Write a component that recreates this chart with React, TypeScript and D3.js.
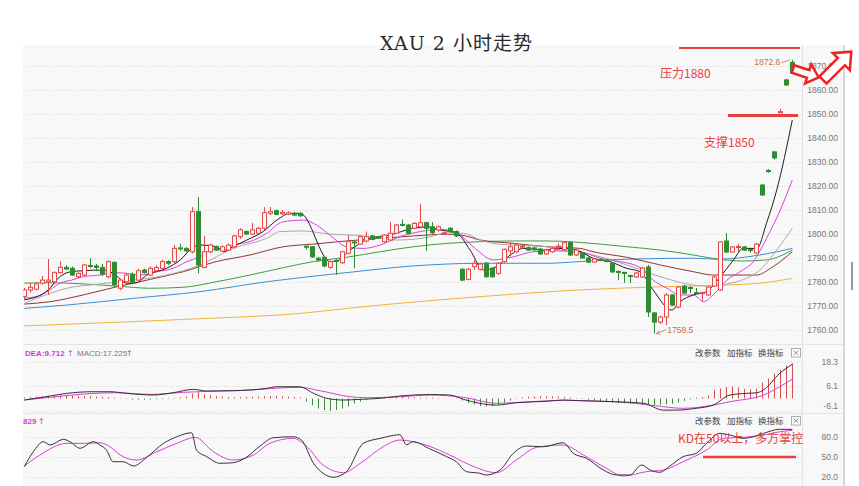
import React from 'react';
import * as d3 from 'd3';

// [open, high, low, close]
const OHLC: [number, number, number, number][] = [
  [1774, 1777.5, 1772.5, 1776.7], [1776.7, 1779.5, 1775.5, 1777.8], [1777, 1780, 1776.5, 1779.2], [1779.5, 1782.5, 1779, 1780.8],
  [1780.1, 1789.6, 1774.6, 1780.8], [1780.1, 1784.5, 1779, 1783.9], [1783.9, 1788.7, 1783.5, 1786.1], [1786.1, 1787, 1785, 1785.4],
  [1785.7, 1786.5, 1782.5, 1782.9], [1782.2, 1784, 1781.5, 1783.6], [1782.9, 1787.5, 1782.5, 1787.1], [1786.9, 1789.9, 1785.7, 1786.5],
  [1786.7, 1787.5, 1784.5, 1786.1], [1786.1, 1787.5, 1782.5, 1783.3], [1782.2, 1789, 1781.5, 1788.5], [1788.2, 1788.5, 1778, 1778.8],
  [1777.4, 1781.5, 1776.5, 1780.8], [1780.1, 1783.5, 1779.5, 1782.9], [1783.2, 1784, 1779, 1779.7], [1780.8, 1785.5, 1780, 1784.7],
  [1785, 1785.5, 1783.5, 1783.9], [1782.9, 1786.5, 1782.5, 1785.7], [1784.7, 1787, 1784, 1786.1], [1785.7, 1789.2, 1785, 1788.5],
  [1788.5, 1789, 1787, 1787.8], [1788.5, 1795.4, 1787.8, 1794], [1794.2, 1796, 1793, 1793.8], [1794, 1794.5, 1792.5, 1793],
  [1792.6, 1811.2, 1791.9, 1809.3], [1809.3, 1815.4, 1783.6, 1787.1], [1786.1, 1799.2, 1785.7, 1792.6], [1792.6, 1796, 1792, 1795.4],
  [1794.7, 1795.2, 1793, 1793.3], [1792.9, 1795.2, 1792.5, 1794.7], [1793.3, 1796, 1793, 1795.4], [1794.7, 1799.6, 1794, 1799.2],
  [1798.9, 1802.5, 1798, 1801.7], [1801, 1801.5, 1799.5, 1800], [1800, 1804.6, 1799.6, 1801.7], [1800.3, 1803, 1800, 1802.4],
  [1802.4, 1811.2, 1801.7, 1808.9], [1808.6, 1811.2, 1807.9, 1809.3], [1809.7, 1810.2, 1807.8, 1808.2], [1808.4, 1810, 1808, 1809],
  [1808.2, 1809.5, 1807.8, 1808.8], [1808.6, 1809.2, 1807.5, 1807.9], [1808.6, 1809, 1807, 1807.6], [1794.9, 1795.2, 1793.5, 1794.5],
  [1794.7, 1795, 1790, 1790.5], [1789.9, 1790.5, 1788.5, 1789.2], [1790.3, 1790.8, 1786, 1786.7], [1786.1, 1789, 1785.5, 1788.5],
  [1789, 1789.5, 1783, 1788.6], [1788, 1793, 1787.5, 1792.6], [1792, 1799.6, 1791.5, 1796.8], [1796.7, 1797.2, 1785.7, 1796.3],
  [1795.8, 1799.4, 1795.4, 1798.9], [1797.1, 1801, 1796.3, 1798.9], [1799.2, 1799.6, 1797.4, 1797.8], [1798.8, 1799.2, 1798, 1798.4],
  [1796.8, 1800, 1796.4, 1799.6], [1797.5, 1805.1, 1797, 1800.3], [1800.3, 1804.2, 1800, 1803.75], [1804, 1806, 1803.2, 1803.6],
  [1803.75, 1804.2, 1799.8, 1800.3], [1802.4, 1805, 1802, 1804.4], [1803, 1812.5, 1802.4, 1804.7], [1804.7, 1805.1, 1793, 1802.4],
  [1803, 1805, 1800, 1800.5], [1801.7, 1803.5, 1801, 1803], [1800.2, 1801, 1799.8, 1800.5], [1802.4, 1802.8, 1800.6, 1801],
  [1801, 1801.5, 1798.8, 1799.2], [1785.3, 1785.8, 1780.3, 1780.8], [1781.1, 1785.8, 1780.8, 1785.3], [1786.4, 1789.2, 1785, 1787.8],
  [1785.3, 1788, 1784.8, 1787.5], [1787.8, 1788.3, 1781.7, 1782.2], [1785.7, 1786.2, 1781.7, 1782.2], [1783.6, 1788.3, 1783, 1787.8],
  [1788.5, 1794, 1788, 1793.6], [1793, 1796.5, 1790.8, 1794.7], [1792.6, 1795.8, 1792, 1795.4], [1794.5, 1795.5, 1794, 1794.9],
  [1794.3, 1794.8, 1793, 1793.3], [1794.2, 1794.6, 1793, 1793.4], [1793.75, 1794.2, 1791.2, 1791.7], [1791.7, 1793.8, 1791.3, 1793.3],
  [1792.6, 1794.5, 1792.2, 1794], [1794.5, 1796, 1793.3, 1794.9], [1793.5, 1797, 1793, 1796.4], [1796.4, 1797, 1790.8, 1791.25],
  [1791.25, 1793.8, 1790.8, 1793.3], [1792.1, 1792.5, 1789.6, 1790], [1790, 1790.4, 1787.9, 1788.3], [1788.3, 1790, 1788, 1789.6],
  [1789.4, 1789.8, 1788.6, 1789], [1789, 1789.4, 1788.2, 1788.6], [1787.9, 1788.3, 1783.8, 1784.2], [1784.4, 1784.8, 1780.8, 1784],
  [1784, 1784.2, 1779.6, 1783.6], [1782.7, 1783, 1779.6, 1782.3], [1782.1, 1784.2, 1781.7, 1783.75], [1782.1, 1786.3, 1781.7, 1785.8],
  [1786.25, 1787.1, 1765.4, 1767.5], [1767.1, 1767.5, 1758.5, 1763.3], [1763.3, 1766, 1762.5, 1765.4], [1765.4, 1775.4, 1762, 1774.6],
  [1774.6, 1775, 1770, 1770.4], [1769.6, 1778.3, 1769, 1777.9], [1778.3, 1778.8, 1775, 1775.4], [1777.7, 1778.3, 1775.4, 1777.3],
  [1775.6, 1777.5, 1775, 1775.2], [1775.2, 1776, 1771.7, 1775.6], [1774.6, 1778.3, 1774.2, 1777.9], [1778.3, 1782.5, 1777.9, 1782.1],
  [1776.7, 1797, 1776.3, 1796.7], [1797.1, 1800.4, 1792.1, 1792.5], [1792.5, 1795, 1792.1, 1794.6], [1794.4, 1796, 1792.5, 1794.8],
  [1794.6, 1795, 1793, 1793.3], [1793.5, 1793.6, 1792.2, 1793.1], [1792.1, 1796.3, 1791.7, 1795.8], [1820.4, 1820.8, 1815.8, 1816.25],
  [1826.5, 1827, 1825.5, 1826], [1834.2, 1834.6, 1831, 1831.7], [1850.5, 1852.2, 1850.3, 1851], [1864.2, 1864.6, 1861.7, 1862.1],
  [1871.5, 1872.6, 1866.7, 1867.1],
];

// moving averages, [bar index, price]
const MA_BLACK: [number, number][] = [[0,1772.5],[4,1776.7],[5.7,1781.7],[7.6,1784.2],[9.8,1784.7],[13.2,1785],[14.8,1783.6],[17.1,1779.5],[18.7,1779.7],[20.4,1782.9],[23.7,1785.7],[26,1789.2],[27.9,1794],[29.3,1795.4],[32.1,1794.7],[33.2,1792.6],[34.8,1794.7],[37.1,1797.5],[39.8,1801],[42.1,1805.8],[44.3,1808.6],[46,1808.6],[51,1788.5],[52.1,1788.75],[54.3,1793.3],[57.6,1798.2],[61,1799.6],[64.8,1802.4],[67.1,1803],[69.3,1801.7],[72.1,1800.3],[74.3,1793.3],[76.5,1785],[78.7,1786.4],[81,1791.25],[83.2,1794],[86.5,1793.3],[89.8,1794],[92.1,1793.3],[94.8,1789.9],[97.6,1788.5],[100.4,1785.7],[102.6,1784.3],[104.8,1776.7],[107.9,1768.3],[109.3,1771.8],[111.5,1774.6],[113.7,1776],[116,1782.2],[118.2,1789.2],[119.8,1794],[122.1,1794],[123.7,1804.5],[125.4,1818.3],[128,1847.5]];
const MA_MAGENTA: [number, number][] = [[0,1773.3],[2.1,1773.9],[4.3,1776.7],[6,1779.6],[7.9,1780.8],[9.8,1782.2],[12.6,1782.9],[14.8,1783.9],[17.1,1783.6],[19.3,1782.9],[22.1,1784.3],[24.8,1785.7],[27.1,1788.5],[29.3,1790.5],[31.5,1793.6],[33.2,1793.3],[34.8,1795.4],[37.6,1796.8],[40.4,1800.3],[43,1805],[46.5,1805.8],[48.7,1803.75],[50.9,1799.6],[53.7,1794.7],[56.5,1794],[59.3,1795.4],[62.6,1798.9],[66,1801],[69.3,1802],[72.1,1800.5],[74.8,1794.7],[78.2,1789.2],[81.5,1790.5],[84.8,1792.6],[88.2,1793],[92.6,1792.6],[96,1789.9],[99.3,1788.5],[102.6,1786.1],[104.8,1780.8],[107.1,1777.4],[109.3,1774.6],[111.5,1774.6],[113.2,1771.8],[114.8,1774.6],[117.1,1780.8],[119.3,1784.3],[121.5,1788.5],[123.7,1798.2],[126,1810],[128,1822.5]];
const MA_GREY: [number, number][] = [[0,1771.1],[4.3,1775.3],[7.1,1777.4],[12.6,1779.2],[18.2,1780.8],[23.7,1782.9],[29.3,1787.1],[34.8,1794],[40.4,1798.2],[42.6,1801],[46.3,1801.25],[50.9,1800],[56.5,1799.2],[59.3,1798.2],[62.1,1797.5],[64.9,1797.8],[67.7,1798.9],[70.5,1800.5],[73.2,1800.3],[76,1797.5],[78.8,1795.8],[81.5,1795.4],[87.1,1794.7],[89.3,1793.3],[94.8,1791.25],[100.4,1787.1],[106,1782.2],[111.5,1778.75],[113.7,1778.3],[117.1,1779.2],[122.6,1785],[125.4,1793.3],[128,1802.4]];
const MA_DARKRED: [number, number][] = [[0,1770.8],[4.3,1771.8],[9.8,1774.6],[15.4,1778],[21,1781.1],[26.5,1784.3],[32,1788.5],[37.6,1791.25],[43.2,1794.7],[48.2,1795.8],[53.7,1797.1],[59.3,1798.2],[64.9,1799.2],[70.5,1799.9],[72.7,1799.6],[76,1797.5],[81.5,1796.1],[87.1,1794.7],[92.6,1794],[94.8,1792.6],[100.4,1790.3],[106,1787.1],[111.5,1784.3],[114.8,1782.9],[122,1782.9],[124.8,1786.4],[128,1792.6]];
const MA_GREEN: [number, number][] = [[0,1779.5],[4.3,1779.7],[9.8,1779.2],[15.4,1778.3],[21,1777.4],[26.5,1777.8],[32,1780.1],[37.6,1782.9],[43.2,1786],[48.2,1788.5],[53.7,1790.3],[59.3,1792.6],[64.9,1794.7],[70.5,1796.1],[76,1796.8],[81.5,1797.1],[87.1,1797.1],[92.6,1796.5],[100.4,1794.7],[106,1793.3],[111.5,1791.25],[115.4,1789.6],[119.8,1788.75],[123.7,1789.2],[128,1793.3]];
const MA_BLUE: [number, number][] = [[0,1769],[7.1,1770.4],[18.2,1773.2],[29.3,1776],[40.4,1780.1],[53.7,1783.9],[64.9,1786.7],[76,1787.8],[87.1,1787.8],[92.6,1788.5],[100.4,1789.5],[111.5,1789.9],[115.4,1789.5],[122.6,1791.25],[128,1794]];
const MA_ORANGE: [number, number][] = [[0,1761.7],[18.2,1763.5],[34.8,1765.3],[42.6,1766.25],[59.3,1770.4],[76,1773.9],[92.6,1776.7],[106,1778],[117.1,1778.75],[122.6,1779.5],[128,1781.5]];

// MACD
const MACD_HIST: number[] = [
  0.6, 0.8, 1.0, 1.2, 1.4, 1.5, 1.6, 1.6, 1.5, 1.4, 1.3, 1.2, 1.0, 0.9, 0.7,
  0.4, 0.2,
  -0.3, -0.5, -0.6, -0.6, -0.5, -0.4, -0.3, -0.2,
  0.3, 0.6, 1.0, 2.5, 3.2, 2.0, 1.5, 1.2, 1.0, 0.8, 0.7, 0.7, 0.8, 0.9, 1.0, 1.2, 1.3, 1.3, 1.2, 1.0, 0.8, 0.5,
  -1.6, -3.3, -5.0, -5.8, -6.2, -5.8, -5.0, -4.0, -2.5, -1.6, -0.8,
  0.2, 0.4, 0.6, 0.7, 0.8, 0.8, 0.7, 0.6, 0.5,
  0.5, 0.4, 0.3, 0.2, 0.1, -0.2,
  -1.0, -2.2, -3.0, -3.8, -4.0, -3.8, -3.0, -2.2, -1.0,
  0.3, 0.6, 0.9, 1.1, 1.2, 1.2, 1.1, 1.0, 0.8, 0.5, 0.2,
  -0.3, -0.6,
  -1.0, -1.4, -1.8, -2.0, -2.2, -2.4, -2.6, -2.8, -3.0, -3.2, -3.4, -3.2, -3.0, -2.6, -2.0, -1.2, -0.5,
  0.5, 0.8, 1.5, 4.3, 5.0, 5.8, 6.0, 5.6, 4.8, 4.6, 5.0, 8.0, 10.0, 12.5, 14.5, 16.5, 17.6,
];
const DIF: [number, number][] = [[0,-0.75],[4.3,1.25],[7.1,2.6],[11.5,3.4],[14.3,3.4],[17,2.6],[21.5,1.75],[24.8,2.9],[28.2,4.6],[30.4,3.75],[34.8,3.9],[40.4,5.1],[42.1,5.9],[45.9,5.9],[48.2,2.6],[50.4,0.1],[53.2,-0.75],[56,-0.4],[59.3,0.1],[62.6,1.25],[67.6,2.0],[70.9,1.75],[73.2,-0.4],[75.9,-2.4],[78.7,-3.3],[82,-2.1],[87,-1.4],[89.8,-0.75],[92.6,-1.1],[98.2,-1.6],[103.2,-2.4],[106.5,-5.8],[108.7,-5.8],[112,-4.9],[114.8,-3.3],[117.6,1.75],[120.4,2.6],[122.1,2.9],[123.2,4.3],[125.9,12.6],[128,17.225]];
const DEA: [number, number][] = [[0,-0.75],[4.3,0.6],[9.8,2.25],[15.4,2.9],[21,2.1],[26.5,3.1],[32,3.75],[37.6,4.25],[43.2,5.4],[45.9,5.6],[49.3,3.9],[54.3,0.9],[57.1,0.4],[62.6,0.9],[67.6,1.75],[73.2,0.6],[78.7,-2.4],[84.3,-1.6],[89.8,-0.9],[95.4,-1.25],[100.9,-2.1],[106.5,-4.1],[109.8,-4.9],[114.8,-3.3],[117.6,-1.6],[123.2,1.75],[125.9,5.9],[128,9.712]];

// KD
const K_LINE: [number, number][] = [[0,35],[1.5,57.8],[3.2,73],[4.3,68],[6.5,76.6],[7.6,73],[9.3,63],[11.5,73],[12.6,68],[13.7,60.3],[14.8,42.5],[16.5,42.5],[18.2,36],[20.4,49.2],[23.2,70.5],[25.4,80.5],[27.9,86.6],[28.7,60.3],[30.4,50.2],[32.6,40.1],[34.8,41],[37,49.2],[39.3,66.4],[41.5,79],[44.8,80.5],[46.2,75.5],[48.2,40.1],[49.8,24.9],[51.5,18.8],[53.7,27.4],[56.5,70.5],[59.3,78.1],[60.4,80.5],[62.6,83.6],[63.7,68.4],[64.8,73],[67.6,62],[70.4,50.2],[72,42.5],[73.7,27.4],[75.9,24.9],[77,22.3],[79.3,29.9],[81.5,55.3],[83.7,66.4],[86.5,65.3],[89.8,71.4],[91.5,55.3],[93.7,47.7],[96.5,29.9],[98.7,22.3],[100.9,22.3],[102.9,37.5],[104.3,29.9],[105.9,26.4],[107.6,36],[109.8,50.2],[112,55.3],[113.7,70.5],[115.9,85.7],[117.6,83.1],[119.8,78.1],[121.5,80.5],[123.2,85.7],[125.9,91.8],[128,91.8]];
const D_LINE: [number, number][] = [[0,36],[2.6,52.7],[7.1,70.5],[10.4,70.5],[12.6,71.4],[14.3,65.3],[16,52.7],[18.7,45.1],[22.1,57.8],[25.4,70.5],[28.5,79.6],[31.5,57.8],[34.8,45.1],[38.2,52.7],[40.9,70.5],[44.8,78.1],[47,66.4],[49.8,37.5],[53.2,25.8],[56,40.1],[59.8,65.3],[62.6,75.5],[64.8,73],[67.6,65.8],[70.9,52.7],[74.3,37.5],[78.7,25.8],[82,45.1],[85.4,64.4],[89.8,68],[93.2,52.7],[97,32.5],[99.8,20.8],[103.7,27.4],[106.5,29.9],[109.8,42.5],[113.7,60.3],[116.5,78.1],[119.8,79.6],[123.2,83.1],[125.9,88.1],[128,90.3]];

const PRICE_TICKS = [1760, 1770, 1780, 1790, 1800, 1810, 1820, 1830, 1840, 1850, 1860, 1870];
const MACD_TICKS = [18.3, 6.1, -6.1];
const KD_TICKS = [80, 50, 20];
const TITLE = 'XAU 2 小时走势';
const HIGH_LABEL = 1872.6;
const LOW_LABEL = 1758.5;

const RED = '#e04a4a';
const GREEN = '#2f8c34';
const BG = '#f8f8f8';
const ANN = '#e8403c';

function arrowPoints(L: number, tw: number, hw: number, hl: number) {
  return [[0, -tw], [L - hl, -tw], [L - hl, -hw], [L, 0], [L - hl, hw], [L - hl, tw], [0, tw]]
    .map((p) => p.join(',')).join(' ');
}

export default function App() {
  const W = 859, H = 486;
  const left = 23, right = 802, edge = 844;
  const x = d3.scaleLinear().domain([0, 128]).range([24.3, 792.3]);
  const yMain = d3.scaleLinear().domain([1760, 1870]).range([330, 66]);
  const yMacd = d3.scaleLinear().domain([-6.1, 18.3]).range([410.7, 362]);
  const yKd = d3.scaleLinear().domain([20, 80]).range([476.5, 437.1]);

  const mk = (ys: d3.ScaleLinear<number, number>) =>
    d3.line<[number, number]>().x((d) => x(d[0])).y((d) => ys(d[1])).curve(d3.curveMonotoneX);
  const lm = mk(yMain), lmacd = mk(yMacd), lkd = mk(yKd);

  const maSeries: [[number, number][], string][] = [
    [MA_ORANGE, '#f0b440'], [MA_BLUE, '#3a8fd6'], [MA_GREEN, '#3f9c44'], [MA_DARKRED, '#923434'],
    [MA_GREY, '#a9a9a9'], [MA_MAGENTA, '#e040e0'], [MA_BLACK, '#1e1e1e'],
  ];

  const axisFont = 'Liberation Sans, Arial, sans-serif';
  const cjk = '"Noto Sans CJK SC", sans-serif';
  const bw = 4;
  const hi = x(128), hiY = yMain(HIGH_LABEL);
  const loX = x(105), loY = yMain(LOW_LABEL);

  const panelHeader = (y: number) => (
    <g fontFamily={cjk} fontSize={8.5} fill="#444">
      <text x={695} y={y}>改参数</text>
      <text x={727} y={y}>加指标</text>
      <text x={758} y={y}>换指标</text>
      <rect x={791.5} y={y - 7.5} width={9} height={8.5} fill="#fff" stroke="#999" strokeWidth={0.8} />
      <path d={`M${793.5},${y - 5.5}L${798.5},${y - 1}M${798.5},${y - 5.5}L${793.5},${y - 1}`} stroke="#777" strokeWidth={0.8} />
    </g>
  );

  return (
    <svg width={W} height={H} style={{ position: 'absolute', left: 0, top: 0, background: '#fff' }}>
      <defs>
        <clipPath id="cMain"><rect x={left} y={45} width={right - left} height={298} /></clipPath>
        <clipPath id="cMacd"><rect x={left} y={345} width={right - left} height={67} /></clipPath>
        <clipPath id="cKd"><rect x={left} y={414} width={right - left} height={72} /></clipPath>
      </defs>
      <rect x={left} y={45} width={edge - left} height={H - 45} fill={BG} />
      {/* separators */}
      <line x1={right + 0.5} x2={right + 0.5} y1={45} y2={H} stroke="#e2e2e2" />
      <line x1={left} x2={edge} y1={344.5} y2={344.5} stroke="#e4e4e4" />
      <line x1={left} x2={edge} y1={413.5} y2={413.5} stroke="#e4e4e4" />
      <line x1={edge} x2={edge} y1={45} y2={H} stroke="#d6d6d6" strokeWidth={2} />
      <line x1={edge + 8} x2={edge + 8} y1={262} y2={290} stroke="#9a9a9a" strokeWidth={2} />

      {/* grids */}
      <g stroke="#d9d9d9" strokeDasharray="1,2">
        {PRICE_TICKS.map((t) => <line key={t} x1={left} x2={right} y1={Math.round(yMain(t)) + 0.5} y2={Math.round(yMain(t)) + 0.5} />)}
        {MACD_TICKS.map((t) => <line key={t} x1={left} x2={right} y1={Math.round(yMacd(t)) + 0.5} y2={Math.round(yMacd(t)) + 0.5} />)}
        {KD_TICKS.map((t) => <line key={t} x1={left} x2={right} y1={Math.round(yKd(t)) + 0.5} y2={Math.round(yKd(t)) + 0.5} />)}
      </g>

      {/* axis labels */}
      <g fontFamily={axisFont} fontSize={8.5} fill="#777" textAnchor="end">
        {PRICE_TICKS.map((t) => <text key={t} x={838} y={yMain(t) + 3}>{t.toFixed(2)}</text>)}
        {MACD_TICKS.map((t) => <text key={t} x={838} y={Math.min(yMacd(t) + 3, 409)}>{t.toFixed(1)}</text>)}
        {KD_TICKS.map((t) => <text key={t} x={838} y={yKd(t) + 3}>{t.toFixed(1)}</text>)}
      </g>

      {/* main panel */}
      <g clipPath="url(#cMain)">
        {maSeries.map(([d, c], k) => (
          <path key={k} d={lm(d) || ''} fill="none" stroke={c} strokeWidth={1} />
        ))}
        {OHLC.map(([o, h, l, c], i) => {
          const up = c >= o;
          const col = up ? RED : GREEN;
          const cx = Math.round(x(i)) + 0.5;
          const yt = yMain(Math.max(o, c)), yb = yMain(Math.min(o, c));
          return (
            <g key={i}>
              <line x1={cx} x2={cx} y1={yMain(h)} y2={yMain(l)} stroke={col} strokeWidth={1} />
              <rect x={cx - bw / 2} y={yt} width={bw} height={Math.max(1, yb - yt)}
                fill={up ? BG : col} stroke={col} strokeWidth={1} />
            </g>
          );
        })}
      </g>

      {/* high / low labels */}
      <g fontFamily={axisFont} fontSize={8.5} fill="#c8743a">
        <text x={hi - 38} y={hiY + 5} textAnchor="start">{HIGH_LABEL.toFixed(1)}</text>
        <path d={`M${hi - 11},${hiY + 3}L${hi - 2},${hiY}`} stroke="#c8743a" strokeWidth={0.8} fill="none" />
        <text x={loX + 13} y={loY - 1} textAnchor="start">{LOW_LABEL.toFixed(1)}</text>
        <path d={`M${loX + 12},${loY - 4}L${loX + 2},${loY}M${loX + 2},${loY}l3,-3M${loX + 2},${loY}l4,0.5`} stroke="#c8743a" strokeWidth={0.8} fill="none" />
      </g>

      {/* MACD panel */}
      <g clipPath="url(#cMacd)">
        {MACD_HIST.map((v, i) => {
          const cx = Math.round(x(i)) + 0.5;
          return <line key={i} x1={cx} x2={cx} y1={yMacd(0)} y2={yMacd(v)} stroke={v >= 0 ? '#d65050' : '#3d8c3d'} strokeWidth={1} />;
        })}
        <path d={lmacd(DEA) || ''} fill="none" stroke="#d83fd8" strokeWidth={1} />
        <path d={lmacd(DIF) || ''} fill="none" stroke="#333" strokeWidth={1} />
      </g>
      <g fontSize={8}>
        <text x={25} y={356} fill="#d040d0" fontFamily={axisFont} fontWeight="bold">DEA:9.712</text>
        <text x={67} y={356} fill="#d040d0" fontFamily="DejaVu Sans">↑</text>
        <text x={77} y={356} fill="#777" fontFamily={axisFont}>MACD:17.225</text>
        <text x={126} y={356} fill="#777" fontFamily="DejaVu Sans">↑</text>
      </g>
      {panelHeader(356)}

      {/* KD panel */}
      <g clipPath="url(#cKd)">
        <path d={lkd(D_LINE) || ''} fill="none" stroke="#d83fd8" strokeWidth={1} />
        <path d={lkd(K_LINE) || ''} fill="none" stroke="#333" strokeWidth={1} />
      </g>
      <g fontSize={8}>
        <text x={23} y={424} fill="#d040d0" fontFamily={axisFont} fontWeight="bold">829</text>
        <text x={38} y={424} fill="#d040d0" fontFamily="DejaVu Sans">↑</text>
      </g>
      {panelHeader(424)}

      {/* title */}
      <text x={380} y={50} textLength={152} lengthAdjust="spacing"
        fontFamily={'"DejaVu Serif", "Noto Sans CJK SC", serif'} fontSize={19} fill="#2a2a2a">{TITLE}</text>

      {/* annotations */}
      <line x1={679} x2={800} y1={48} y2={48} stroke={ANN} strokeWidth={2} />
      <text x={660} y={78} fontFamily={cjk} fontSize={12} fill={ANN}>压力1880</text>
      <line x1={728} x2={798} y1={115.5} y2={115.5} stroke={ANN} strokeWidth={3} />
      <text x={704} y={147} fontFamily={cjk} fontSize={12} fill={ANN}>支撑1850</text>
      <line x1={703} x2={796} y1={457} y2={457} stroke={ANN} strokeWidth={2.5} />
      <text x={678} y={443} fontFamily={cjk} fontSize={12} fill={ANN}>KD在50以上，多方掌控</text>
      <polygon points={arrowPoints(27, 4, 10, 11)} transform="translate(793,69) rotate(18)" fill="#fff" stroke="#ee2222" strokeWidth={2.5} strokeLinejoin="miter" />
      <polygon points={arrowPoints(40, 5, 12, 14)} transform="translate(823,80) rotate(-45)" fill="#fff" stroke="#ee2222" strokeWidth={2.5} strokeLinejoin="miter" />
    </svg>
  );
}
